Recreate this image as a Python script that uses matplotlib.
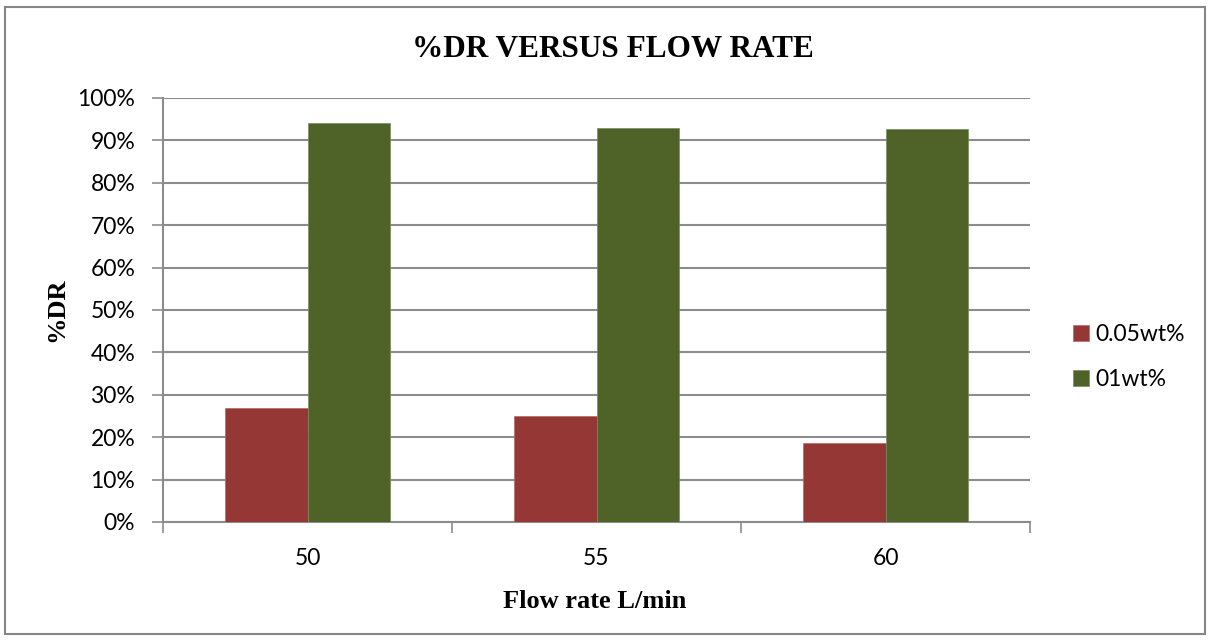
import numpy as np
import matplotlib.pyplot as plt
from matplotlib.patches import Rectangle
from matplotlib.ticker import PercentFormatter

flow_rates = ['50', '55', '60']
series_names = ['0.05wt%', '01wt%']
dr_005 = [26.8, 25.1, 18.7]
dr_01 = [94.1, 93.0, 92.7]
colors = ['#953735', '#4F6228']

SANS = ['Lato', 'DejaVu Sans']
SERIF = ['Liberation Serif', 'DejaVu Serif']


def draw_chart(out_path):
    fig = plt.figure(figsize=(12.12, 6.41), dpi=100)

    # outer chart frame
    fig.patches.append(Rectangle((5 / 1212, 7 / 641), 1200 / 1212, 627 / 641,
                                 transform=fig.transFigure, fill=False,
                                 edgecolor='#868686', linewidth=1.5))

    ax = fig.add_axes([163 / 1212, 1 - 522 / 641, 867 / 1212, 424 / 641])

    x = np.arange(len(flow_rates))
    w = 1 / 3.5
    ax.bar(x - w / 2, dr_005, width=w, color=colors[0], label=series_names[0],
           edgecolor='#b06a68', linewidth=0.5, zorder=3)
    ax.bar(x + w / 2, dr_01, width=w, color=colors[1], label=series_names[1],
           edgecolor='#7a8a5e', linewidth=0.5, zorder=3)

    ax.set_xlim(-0.5, len(flow_rates) - 0.5)
    ax.set_ylim(0, 100)
    ax.set_yticks(np.arange(0, 101, 10))
    ax.yaxis.set_major_formatter(PercentFormatter(decimals=0))
    ax.grid(axis='y', color='#8c8c8c', linewidth=1.5, zorder=0)

    # category labels in the middle, tick marks on the boundaries
    ax.set_xticks(x)
    ax.set_xticklabels(flow_rates)
    ax.set_xticks(np.arange(-0.5, len(flow_rates)), minor=True)
    ax.tick_params(axis='x', which='major', length=0, pad=19)
    ax.tick_params(axis='x', which='minor', length=8, color='#8c8c8c', width=1.2)
    ax.tick_params(axis='y', length=8, color='#8c8c8c', width=1.2, pad=12)
    for lbl in ax.get_xticklabels() + ax.get_yticklabels():
        lbl.set_family(SANS)
        lbl.set_fontsize(16.5)

    for side in ['top', 'right']:
        ax.spines[side].set_visible(False)
    for side in ['left', 'bottom']:
        ax.spines[side].set_color('#8c8c8c')
        ax.spines[side].set_linewidth(1.5)

    fig.text(0.506, 0.922, '%DR VERSUS FLOW RATE', ha='center', va='center',
             family=SERIF, fontweight='bold', fontsize=22.5)
    fig.text(0.491, 1 - 601 / 641, 'Flow rate L/min', ha='center', va='center',
             family=SERIF, fontweight='bold', fontsize=19)
    fig.text(57 / 1212, 1 - 310 / 641, '%DR', ha='center', va='center',
             rotation=90, family=SERIF, fontweight='bold', fontsize=19)

    ax.legend(loc='center left', bbox_to_anchor=(1.0255, 0.39), frameon=False,
              prop={'family': SANS, 'size': 16.5}, handlelength=0.7,
              handleheight=0.7, handletextpad=0.3, labelspacing=1.05)

    fig.savefig(out_path, dpi=100)
    plt.close(fig)


def main():
    draw_chart('out.png')


if __name__ == '__main__':
    main()
